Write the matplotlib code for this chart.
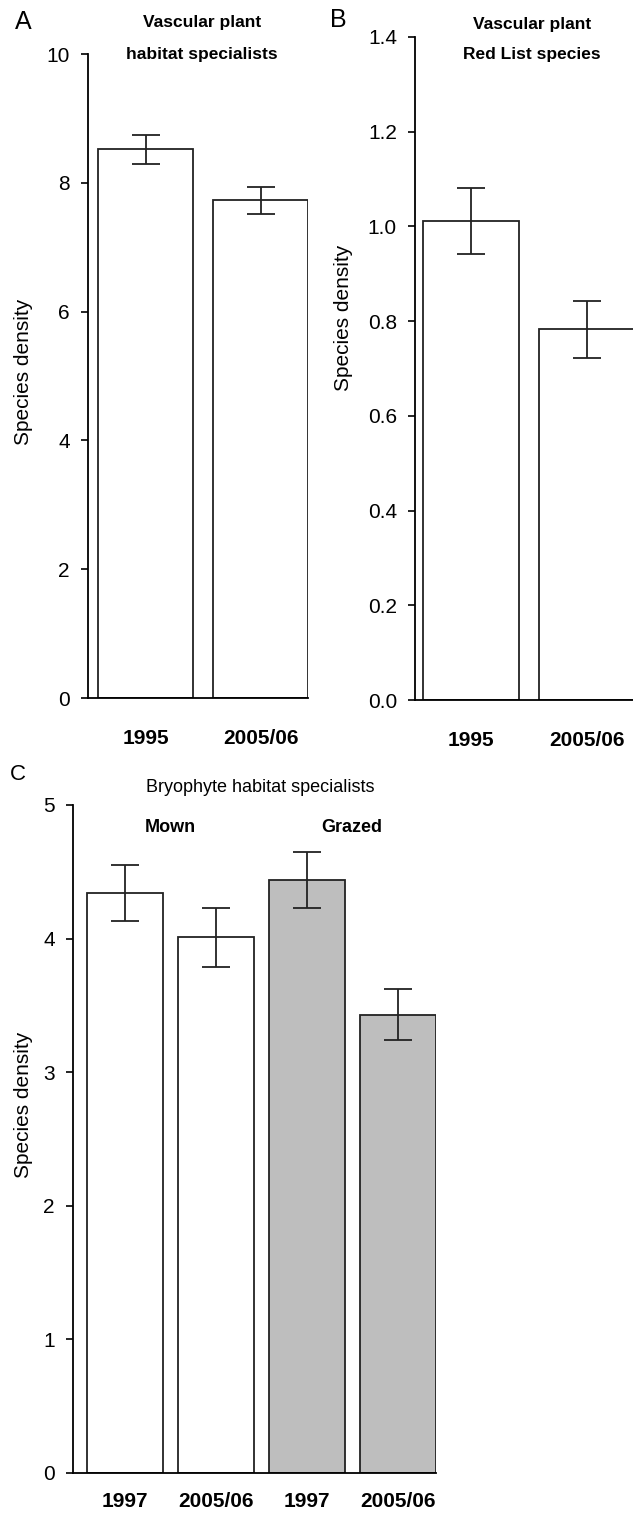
import matplotlib
matplotlib.use("Agg")
import matplotlib.pyplot as plt

plt.rcParams['font.family'] = ['Liberation Sans', 'DejaVu Sans']

# Panel A data
a_labels = ["1995", "2005/06"]
a_values = [8.52, 7.73]
a_err = [0.23, 0.21]

# Panel B data
b_labels = ["1995", "2005/06"]
b_values = [1.012, 0.783]
b_err = [0.07, 0.06]

# Panel C data
c_labels = ["1997", "2005/06", "1997", "2005/06"]
c_values = [4.34, 4.01, 4.44, 3.43]
c_err = [0.21, 0.22, 0.21, 0.19]
c_colors = ["white", "white", "#bebebe", "#bebebe"]

W, H = 633, 1513
fig = plt.figure(figsize=(W / 100, H / 100), dpi=100)

def ax_px(l, r, t, b):
    return fig.add_axes([l / W, 1 - b / H, (r - l) / W, (b - t) / H])

def style(ax, xpad):
    for s in ["top", "right"]:
        ax.spines[s].set_visible(False)
    for s in ["left", "bottom"]:
        ax.spines[s].set_linewidth(1.3)
    ax.tick_params(axis='y', direction='out', length=5, width=1.2, labelsize=15, pad=8)
    ax.tick_params(axis='x', direction='in', length=12, width=1.2, labelsize=15, pad=xpad)
    for t in ax.get_xticklabels():
        t.set_fontweight('bold')

def bars(ax, labels, values, errs, colors, width):
    x = list(range(len(values)))
    ax.bar(x, values, width=width, color=colors, edgecolor='#222222', linewidth=1.3, zorder=2)
    ax.errorbar(x, values, yerr=errs, fmt='none', ecolor='#222222', elinewidth=1.3,
                capsize=10, capthick=1.3, zorder=3)
    ax.set_xticks(x)
    ax.set_xticklabels(labels)

# Panel A
axA = ax_px(88, 308, 54, 698)
bars(axA, a_labels, a_values, a_err, ["white"] * 2, 0.826)
axA.set_ylim(0, 10)
axA.set_xlim(-0.5, 1.413)
axA.set_yticks([0, 2, 4, 6, 8, 10])
style(axA, 22)
axA.set_ylabel("Species density", fontsize=15)
axA.yaxis.set_label_coords(-0.25, 0.506)
fig.text(15 / W, 1 - 22 / H, "A", fontsize=18, va='center', ha='left')
fig.text(202 / W, 1 - 22 / H, "Vascular plant", fontsize=12.5, fontweight='bold', ha='center', va='center')
fig.text(202 / W, 1 - 55 / H, "habitat specialists", fontsize=12.5, fontweight='bold', ha='center', va='center')

# Panel B
axB = ax_px(415, 633, 37, 700)
bars(axB, b_labels, b_values, b_err, ["white"] * 2, 0.82)
axB.set_ylim(0, 1.4)
axB.set_xlim(-0.483, 1.397)
axB.set_yticks([0.0, 0.2, 0.4, 0.6, 0.8, 1.0, 1.2, 1.4])
axB.set_yticklabels(["0.0", "0.2", "0.4", "0.6", "0.8", "1.0", "1.2", "1.4"])
style(axB, 22)
axB.set_ylabel("Species density", fontsize=15)
axB.yaxis.set_label_coords(-0.284, 0.576)
fig.text(330 / W, 1 - 20 / H, "B", fontsize=18, va='center', ha='left')
fig.text(532 / W, 1 - 24 / H, "Vascular plant", fontsize=12.5, fontweight='bold', ha='center', va='center')
fig.text(532 / W, 1 - 55 / H, "Red List species", fontsize=12.5, fontweight='bold', ha='center', va='center')

# Panel C
axC = ax_px(73, 436, 805, 1473)
bars(axC, c_labels, c_values, c_err, c_colors, 0.835)
axC.set_ylim(0, 5)
axC.set_xlim(-0.571, 3.418)
axC.set_yticks([0, 1, 2, 3, 4, 5])
style(axC, 14)
axC.set_ylabel("Species density", fontsize=15)
axC.yaxis.set_label_coords(-0.110, 0.551)
fig.text(10 / W, 1 - 775 / H, "C", fontsize=16, va='center', ha='left')
fig.text(260 / W, 1 - 787 / H, "Bryophyte habitat specialists", fontsize=13, ha='center', va='center')
fig.text(170 / W, 1 - 828 / H, "Mown", fontsize=13, fontweight='bold', ha='center', va='center')
fig.text(352 / W, 1 - 828 / H, "Grazed", fontsize=13, fontweight='bold', ha='center', va='center')

fig.savefig("out.png", dpi=100)
